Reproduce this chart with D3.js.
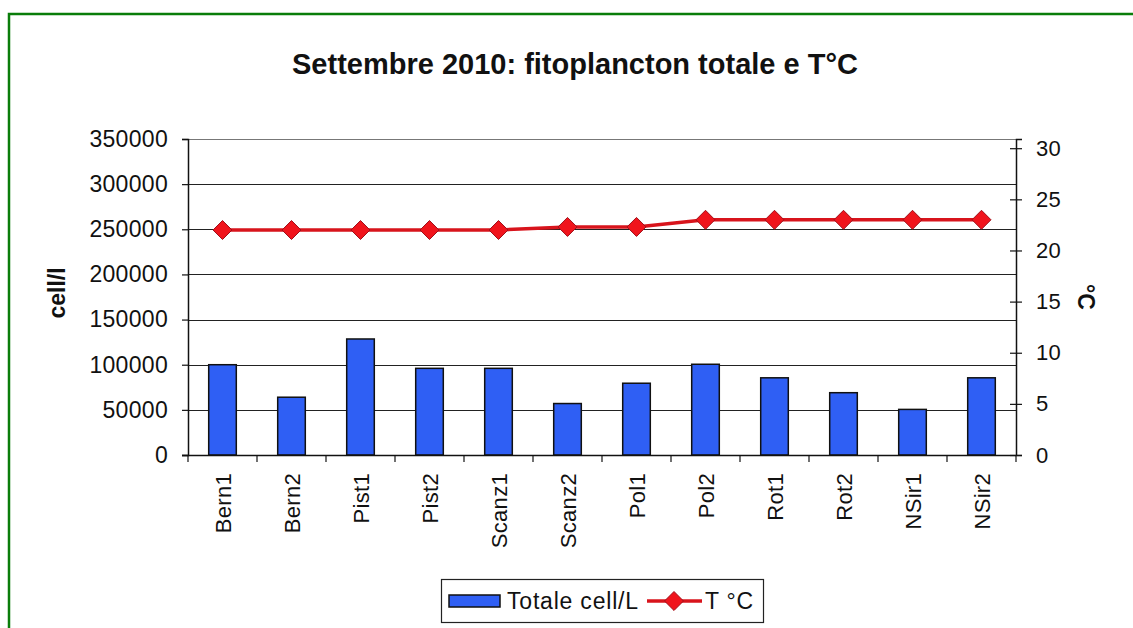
<!DOCTYPE html>
<html>
<head>
<meta charset="utf-8">
<script src="https://cdn.jsdelivr.net/npm/d3@7"></script>
<style>
    body { margin: 0; background: #fff; }
    text { font-family: "Liberation Sans", Arial, sans-serif; fill: #111; }
</style>
</head>
<body>
<svg id="chart" width="1133" height="628"></svg>
<script>
// data
const stations = ["Bern1", "Bern2", "Pist1", "Pist2", "Scanz1", "Scanz2", "Pol1", "Pol2", "Rot1", "Rot2", "NSir1", "NSir2"];
const cells = [100000, 64000, 128500, 96000, 96000, 57000, 79500, 100500, 85500, 69000, 50500, 85500];
const temps = [22, 22, 22, 22, 22, 22.3, 22.3, 23, 23, 23, 23, 23];
const cellTicks = [0, 50000, 100000, 150000, 200000, 250000, 300000, 350000];
const tempTicks = [0, 5, 10, 15, 20, 25, 30];

const svg = d3.select("#chart");

const margin = { left: 188, right: 1016, top: 139, bottom: 455 };

// frame
svg.append("path")
   .attr("d", "M9,636 L9,14 L1140,14")
   .attr("fill", "none")
   .attr("stroke", "#0a7d0a")
   .attr("stroke-width", 2.5);

const x = d3.scaleBand()
            .domain(stations)
            .range([margin.left, margin.right])
            .paddingInner(0.6)
            .paddingOuter(0.3);

const xCat = d3.scaleBand()
               .domain(stations)
               .range([margin.left, margin.right]);

const y = d3.scaleLinear()
            .domain([0, 350000])
            .range([margin.bottom, margin.top]);

const y2 = d3.scaleLinear()
             .domain([0, 30.9])
             .range([margin.bottom, margin.top]);

// gridlines
svg.append("g")
   .selectAll("line")
   .data(cellTicks.slice(1))
   .join("line")
   .attr("x1", margin.left)
   .attr("x2", margin.right)
   .attr("y1", d => Math.round(y(d)) + 0.5)
   .attr("y2", d => Math.round(y(d)) + 0.5)
   .attr("stroke", d => d === 350000 ? "#777" : "#222")
   .attr("stroke-width", 1.2);

// bars
svg.append("g")
   .selectAll("rect")
   .data(stations)
   .join("rect")
   .attr("x", d => x(d))
   .attr("width", x.bandwidth())
   .attr("y", (d, i) => y(cells[i]))
   .attr("height", (d, i) => margin.bottom - y(cells[i]))
   .attr("fill", "#2f5ff4")
   .attr("stroke", "#111")
   .attr("stroke-width", 1.5);

// left axis
const leftAxis = svg.append("g")
   .attr("transform", "translate(" + margin.left + ",0)")
   .call(d3.axisLeft(y).tickValues(cellTicks).tickSize(6).tickPadding(14).tickFormat(d3.format("d")));
leftAxis.select(".domain").attr("stroke", "#111").attr("stroke-width", 1.5);
leftAxis.selectAll(".tick line").attr("stroke", "#111").attr("stroke-width", 1.2);
leftAxis.selectAll("text")
        .style("font-size", "23px")
        .style("letter-spacing", "0.3px")
        .attr("fill", "#111");

// bottom axis with ticks between categories
const bottom = svg.append("g");
bottom.append("line")
      .attr("x1", margin.left - 6)
      .attr("x2", margin.right)
      .attr("y1", margin.bottom + 0.5)
      .attr("y2", margin.bottom + 0.5)
      .attr("stroke", "#111")
      .attr("stroke-width", 1.5);
bottom.selectAll(".xtick")
      .data(stations.concat([null]))
      .join("line")
      .attr("class", "xtick")
      .attr("x1", (d, i) => margin.left + i * xCat.bandwidth())
      .attr("x2", (d, i) => margin.left + i * xCat.bandwidth())
      .attr("y1", margin.bottom)
      .attr("y2", margin.bottom + 7)
      .attr("stroke", "#111")
      .attr("stroke-width", 1.2);
bottom.selectAll(".xlabel")
      .data(stations)
      .join("text")
      .attr("class", "xlabel")
      .attr("transform", d => "translate(" + (xCat(d) + xCat.bandwidth() / 2 + 8) + "," + (margin.bottom + 18) + ") rotate(-90)")
      .attr("text-anchor", "end")
      .style("font-size", "22px")
      .style("letter-spacing", "0.3px")
      .text(d => d);

// right axis
const rightAxis = svg.append("g")
   .attr("transform", "translate(" + margin.right + ",0)")
   .call(d3.axisRight(y2).tickValues(tempTicks).tickSize(6).tickPadding(14));
rightAxis.select(".domain").attr("stroke", "#111").attr("stroke-width", 1.5);
rightAxis.selectAll(".tick line").attr("x1", -6).attr("stroke", "#111").attr("stroke-width", 1.2);
rightAxis.selectAll("text")
         .style("font-size", "22px")
         .style("letter-spacing", "0.3px")
         .attr("fill", "#111");

// temperature line
const line = d3.line()
               .x((d, i) => xCat(stations[i]) + xCat.bandwidth() / 2)
               .y(d => y2(d));

svg.append("path")
   .datum(temps)
   .attr("d", line)
   .attr("fill", "none")
   .attr("stroke", "#d8141c")
   .attr("stroke-width", 3.5);

const diamond = d3.symbol().type(d3.symbolDiamond2).size(230);

svg.append("g")
   .selectAll("path")
   .data(temps)
   .join("path")
   .attr("transform", (d, i) => "translate(" + (xCat(stations[i]) + xCat.bandwidth() / 2) + "," + y2(d) + ")")
   .attr("d", diamond)
   .attr("fill", "#f0141c")
   .attr("stroke", "#a0101a")
   .attr("stroke-width", 1);

// titles
svg.append("text")
   .attr("x", 575)
   .attr("y", 74)
   .attr("text-anchor", "middle")
   .style("font-size", "29px")
   .style("font-weight", "bold")
   .text("Settembre 2010: fitoplancton totale e T°C");

svg.append("text")
   .attr("transform", "translate(65,293) rotate(-90)")
   .attr("text-anchor", "middle")
   .style("font-size", "23px")
   .style("font-weight", "bold")
   .text("cell/l");

svg.append("text")
   .attr("transform", "translate(1078,297) rotate(90)")
   .attr("text-anchor", "middle")
   .style("font-size", "23px")
   .style("font-weight", "bold")
   .text("°C");

// legend
const legend = svg.append("g").attr("class", "legend");
legend.append("rect")
      .attr("x", 441.5)
      .attr("y", 579.5)
      .attr("width", 322)
      .attr("height", 43)
      .attr("fill", "#fff")
      .attr("stroke", "#222")
      .attr("stroke-width", 1.2);
legend.append("rect")
      .attr("x", 449)
      .attr("y", 595)
      .attr("width", 51)
      .attr("height", 12)
      .attr("fill", "#2f5ff4")
      .attr("stroke", "#111")
      .attr("stroke-width", 1.5);
legend.append("text")
      .attr("x", 507)
      .attr("y", 609)
      .style("font-size", "23px")
      .style("letter-spacing", "0.8px")
      .text("Totale cell/L");
legend.append("line")
      .attr("x1", 647)
      .attr("x2", 702)
      .attr("y1", 601)
      .attr("y2", 601)
      .attr("stroke", "#d8141c")
      .attr("stroke-width", 3.5);
legend.append("path")
      .attr("transform", "translate(674,601)")
      .attr("d", diamond)
      .attr("fill", "#f0141c")
      .attr("stroke", "#a0101a")
      .attr("stroke-width", 1);
legend.append("text")
      .attr("x", 705)
      .attr("y", 609)
      .style("font-size", "23px")
      .style("letter-spacing", "0.8px")
      .text("T °C");
</script>
</body>
</html>
